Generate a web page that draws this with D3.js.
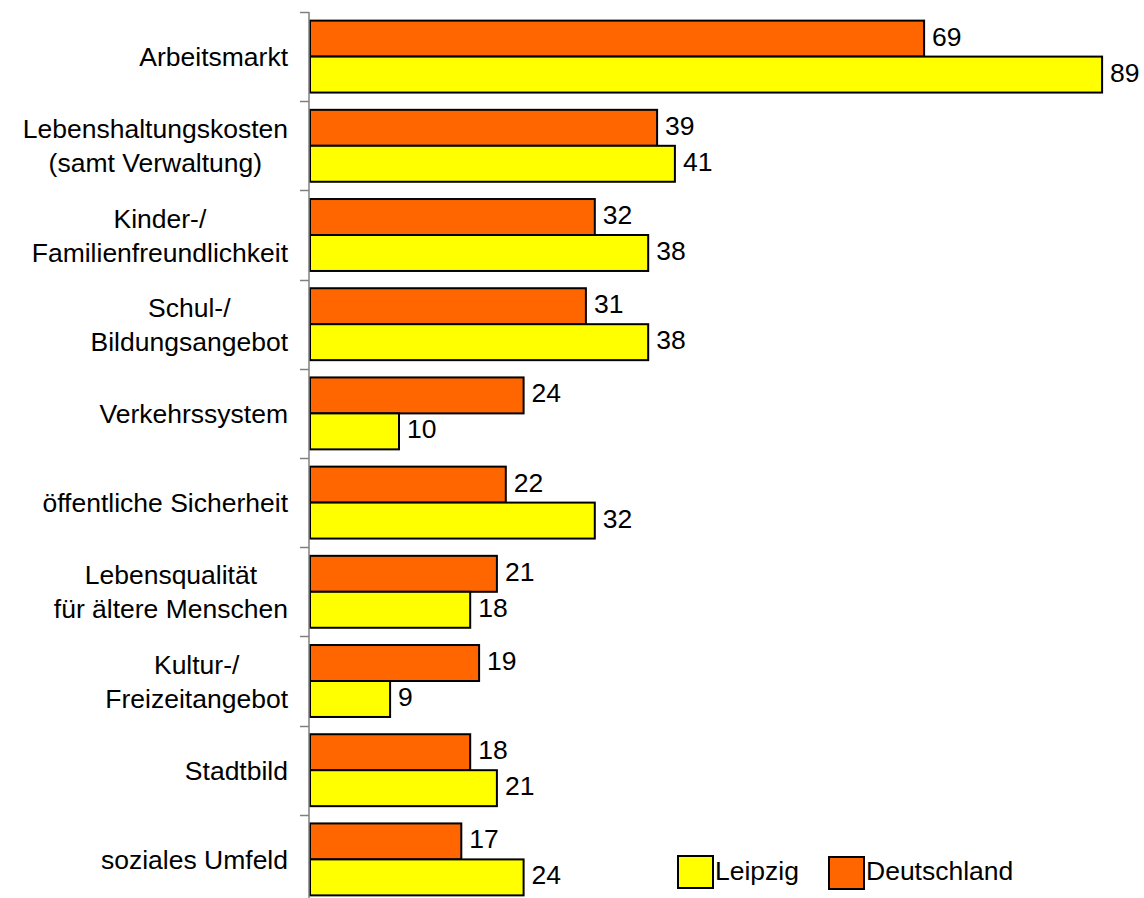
<!DOCTYPE html>
<html><head><meta charset="utf-8">
<script src="https://cdn.jsdelivr.net/npm/d3@7"></script>
<style>body{margin:0;background:#fff;} svg{display:block;}</style>
</head><body>
<script>
const categories = [
  ["Arbeitsmarkt"],
  ["Lebenshaltungskosten", "(samt Verwaltung)"],
  ["Kinder-/", "Familienfreundlichkeit"],
  ["Schul-/", "Bildungsangebot"],
  ["Verkehrssystem"],
  ["öffentliche Sicherheit"],
  ["Lebensqualität", "für ältere Menschen"],
  ["Kultur-/", "Freizeitangebot"],
  ["Stadtbild"],
  ["soziales Umfeld"]
];
const seriesNames = ["Deutschland", "Leipzig"];
const deutschland = [69, 39, 32, 31, 24, 22, 21, 19, 18, 17];
const leipzig = [89, 41, 38, 38, 10, 32, 18, 9, 21, 24];
const colors = {"Deutschland": "#FF6600", "Leipzig": "#FFFF00"};
const legendOrder = ["Leipzig", "Deutschland"];

const W = 1144, H = 898;
const FONT = "'Liberation Sans', Arial, sans-serif";
const FS = 26.5;
const svg = d3.select("body").append("svg").attr("width", W).attr("height", H);

const idx = d3.range(categories.length);
const y = d3.scaleBand().domain(idx).range([12, 904]).padding(0);
const ySub = d3.scaleBand().domain(seriesNames).range([0, y.bandwidth()]).paddingInner(0).paddingOuter(0.24);
const x = d3.scaleLinear().domain([0, 100]).range([310, 1200]);
const values = {"Deutschland": deutschland, "Leipzig": leipzig};

// bars
seriesNames.forEach(s => {
  svg.append("g").selectAll("rect").data(idx).join("rect")
    .attr("x", x(0))
    .attr("y", i => y(i) + ySub(s))
    .attr("width", i => x(values[s][i]) - x(0))
    .attr("height", ySub.bandwidth())
    .attr("fill", colors[s])
    .attr("stroke", "#000")
    .attr("stroke-width", 2);
  svg.append("g").selectAll("text").data(idx).join("text")
    .attr("x", i => x(values[s][i]) + 8)
    .attr("y", i => y(i) + ySub(s) + ySub.bandwidth() / 2 + 7)
    .attr("font-family", FONT).attr("font-size", FS).attr("fill", "#000")
    .text(i => values[s][i]);
});

// axis
const axisG = svg.append("g").attr("transform", "translate(309,0)");
axisG.append("line").attr("x1", 0).attr("x2", 0).attr("y1", 12).attr("y2", 904)
  .attr("stroke", "#808080").attr("stroke-width", 1.5);
const tickPos = idx.map(i => y(i)).concat([904]);
axisG.selectAll("line.tick").data(tickPos).join("line").attr("class", "tick")
  .attr("x1", -9).attr("x2", 0)
  .attr("y1", d => Math.round(d) + 0.5).attr("y2", d => Math.round(d) + 0.5)
  .attr("stroke", "#808080").attr("stroke-width", 1.5);

// category labels: block right-aligned, lines centered within block
const LH = 34;
const labelRight = 288;
categories.forEach((lines, i) => {
  const g = svg.append("g");
  const texts = lines.map(l => g.append("text").attr("font-family", FONT).attr("font-size", FS).attr("fill", "#000").text(l));
  const maxW = d3.max(texts, t => t.node().getComputedTextLength());
  const cy = y(i) + y.bandwidth() / 2;
  const n = lines.length;
  texts.forEach((t, k) => {
    t.attr("text-anchor", "middle")
     .attr("x", labelRight - maxW / 2)
     .attr("y", cy + (k - (n - 1) / 2) * LH + 9.5);
  });
});

// legend
const legendItems = [
  {name: "Leipzig", x: 678, y: 856},
  {name: "Deutschland", x: 829, y: 857}
];
legendOrder.forEach((name, k) => {
  const it = legendItems[k];
  svg.append("rect").attr("x", it.x).attr("y", it.y).attr("width", 35).attr("height", 32)
    .attr("fill", colors[name]).attr("stroke", "#000").attr("stroke-width", 2);
  svg.append("text").attr("x", it.x + 37).attr("y", 880)
    .attr("font-family", FONT).attr("font-size", FS).attr("fill", "#000").text(name);
});
</script>
</body></html>
